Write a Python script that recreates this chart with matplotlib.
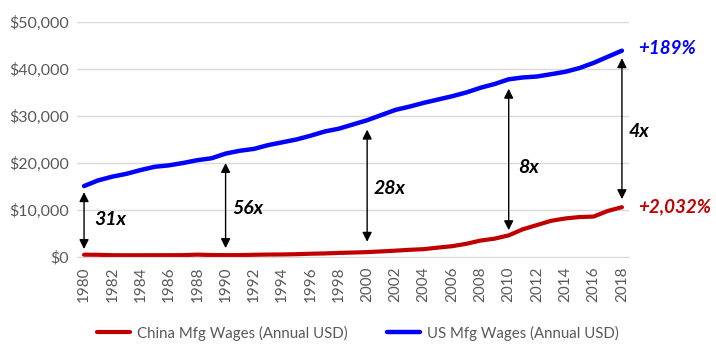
import matplotlib
matplotlib.use('Agg')
import matplotlib.pyplot as plt
from matplotlib.ticker import FuncFormatter

years = list(range(1980, 2019))
us_wages = [15100, 16300, 17100, 17700, 18500, 19200, 19500, 20000, 20600, 21000,
            22000, 22600, 23000, 23800, 24400, 25000, 25800, 26700, 27300, 28200,
            29100, 30200, 31300, 32000, 32800, 33500, 34200, 35000, 36000, 36800,
            37800, 38200, 38400, 38900, 39400, 40200, 41300, 42600, 43900]
china_wages = [490, 470, 380, 370, 370, 380, 380, 400, 500, 420,
               390, 400, 470, 520, 540, 600, 700, 760, 870, 950,
               1040, 1190, 1350, 1530, 1670, 2000, 2300, 2800, 3500, 3900,
               4600, 5900, 6800, 7700, 8200, 8500, 8600, 9800, 10600]
gap_years = [1980, 1990, 2000, 2010, 2018]
gap_labels = ['31x', '56x', '28x', '8x', '4x']
us_growth = '+189%'
china_growth = '+2,032%'

plt.rcParams['font.family'] = ['Lato', 'DejaVu Sans']
grey = '#595959'

fig = plt.figure(figsize=(7.16, 3.49), dpi=100)
ax = fig.add_axes([0.1075, 0.2636, 0.771, 0.6734])

ax.plot(years, china_wages, color='#C00000', lw=3, solid_capstyle='round',
        label='China Mfg Wages (Annual USD)')
ax.plot(years, us_wages, color='#0000FF', lw=3.2, solid_capstyle='round',
        label='US Mfg Wages (Annual USD)')

ax.set_xlim(1979.5, 2018.5)
ax.set_ylim(0, 50000)
ax.set_yticks(range(0, 50001, 10000))
ax.yaxis.set_major_formatter(FuncFormatter(lambda v, p: '${:,.0f}'.format(v)))
ax.set_xticks(years[::2])
ax.tick_params(axis='x', labelrotation=90, length=0, labelsize=11, colors=grey, pad=7)
ax.tick_params(axis='y', length=0, labelsize=11.5, colors=grey, pad=6)
ax.grid(axis='y', color='#D9D9D9', lw=1)
ax.set_axisbelow(True)
for s in ['top', 'right', 'left']:
    ax.spines[s].set_visible(False)
ax.spines['bottom'].set_color('#D9D9D9')

# gap arrows
top_gap = [1300, 2000, 2000, 2000, 1600]
bot_gap = [1200, 1500, 2200, 1100, 1700]
label_dx = [0.7, 0.45, 0.45, 0.7, 0.45]
label_y = [8000, 10400, 14500, 19000, 26700]
for i, yr in enumerate(gap_years):
    k = years.index(yr)
    lo = china_wages[k] + bot_gap[i]
    hi = us_wages[k] - top_gap[i]
    ax.annotate('', xy=(yr, hi), xytext=(yr, lo),
                arrowprops=dict(arrowstyle='<|-|>', color='black', lw=1,
                                mutation_scale=14, shrinkA=0, shrinkB=0))
    ax.text(yr + label_dx[i], label_y[i], gap_labels[i], fontsize=14,
            fontweight='bold', fontstyle='italic', color='black',
            ha='left', va='center')

ax.text(2019.15, us_wages[-1] + 500, us_growth, fontsize=13.5, fontweight='bold',
        fontstyle='italic', color='#0000FF', ha='left', va='center', clip_on=False)
ax.text(2019.15, china_wages[-1], china_growth, fontsize=13.5, fontweight='bold',
        fontstyle='italic', color='#C00000', ha='left', va='center', clip_on=False)

leg = fig.legend(loc='lower center', bbox_to_anchor=(0.5, -0.015), ncol=2, frameon=False,
                 fontsize=10.8, handlelength=2.2, handletextpad=0.5, columnspacing=2.6)
for t in leg.get_texts():
    t.set_color(grey)

fig.savefig('out.png', dpi=100)
